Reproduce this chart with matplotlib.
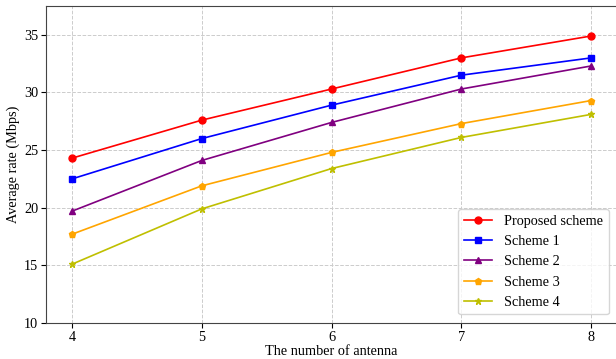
import matplotlib
matplotlib.use("Agg")
import matplotlib.pyplot as plt

plt.rcParams['font.family'] = ['Liberation Serif', 'DejaVu Serif']

antennas = [4, 5, 6, 7, 8]
proposed = [24.3, 27.6, 30.3, 33.0, 34.9]
scheme1 = [22.5, 26.0, 28.9, 31.5, 33.0]
scheme2 = [19.7, 24.1, 27.4, 30.3, 32.3]
scheme3 = [17.7, 21.9, 24.8, 27.3, 29.3]
scheme4 = [15.1, 19.9, 23.4, 26.1, 28.1]
labels = ['Proposed scheme', 'Scheme 1', 'Scheme 2', 'Scheme 3', 'Scheme 4']

fig = plt.figure(figsize=(6.16, 3.59), dpi=100)
ax = fig.add_axes([46/616, 1-323/359, 1-46/616+0.002, (323-6)/359])

series = [proposed, scheme1, scheme2, scheme3, scheme4]
colors = ['red', 'blue', 'purple', 'orange', 'y']
markers = ['o', 's', '^', 'p', '*']
msizes = [5, 5, 5, 5, 5]
for s, c, m, lab, ms in zip(series, colors, markers, labels, msizes):
    ax.plot(antennas, s, color=c, marker=m, markersize=ms, linewidth=1.2, label=lab)

ax.set_xlim(3.8, 8.2)
ax.set_ylim(10, 37.5)
ax.set_xticks(antennas)
ax.set_yticks([10, 15, 20, 25, 30, 35])
ax.grid(True, linestyle='--', color='#cccccc', linewidth=0.7)
ax.set_xlabel('The number of antenna', fontsize=10.3, labelpad=1)
ax.set_ylabel('Average rate (Mbps)', fontsize=10.3, labelpad=3)
ax.tick_params(labelsize=10.3, pad=2)
for sp in ax.spines.values():
    sp.set_color('#444444')
ax.legend(loc='lower right', fontsize=10.3, framealpha=0.8, borderaxespad=0.6)

fig.savefig('out.png', dpi=100)
